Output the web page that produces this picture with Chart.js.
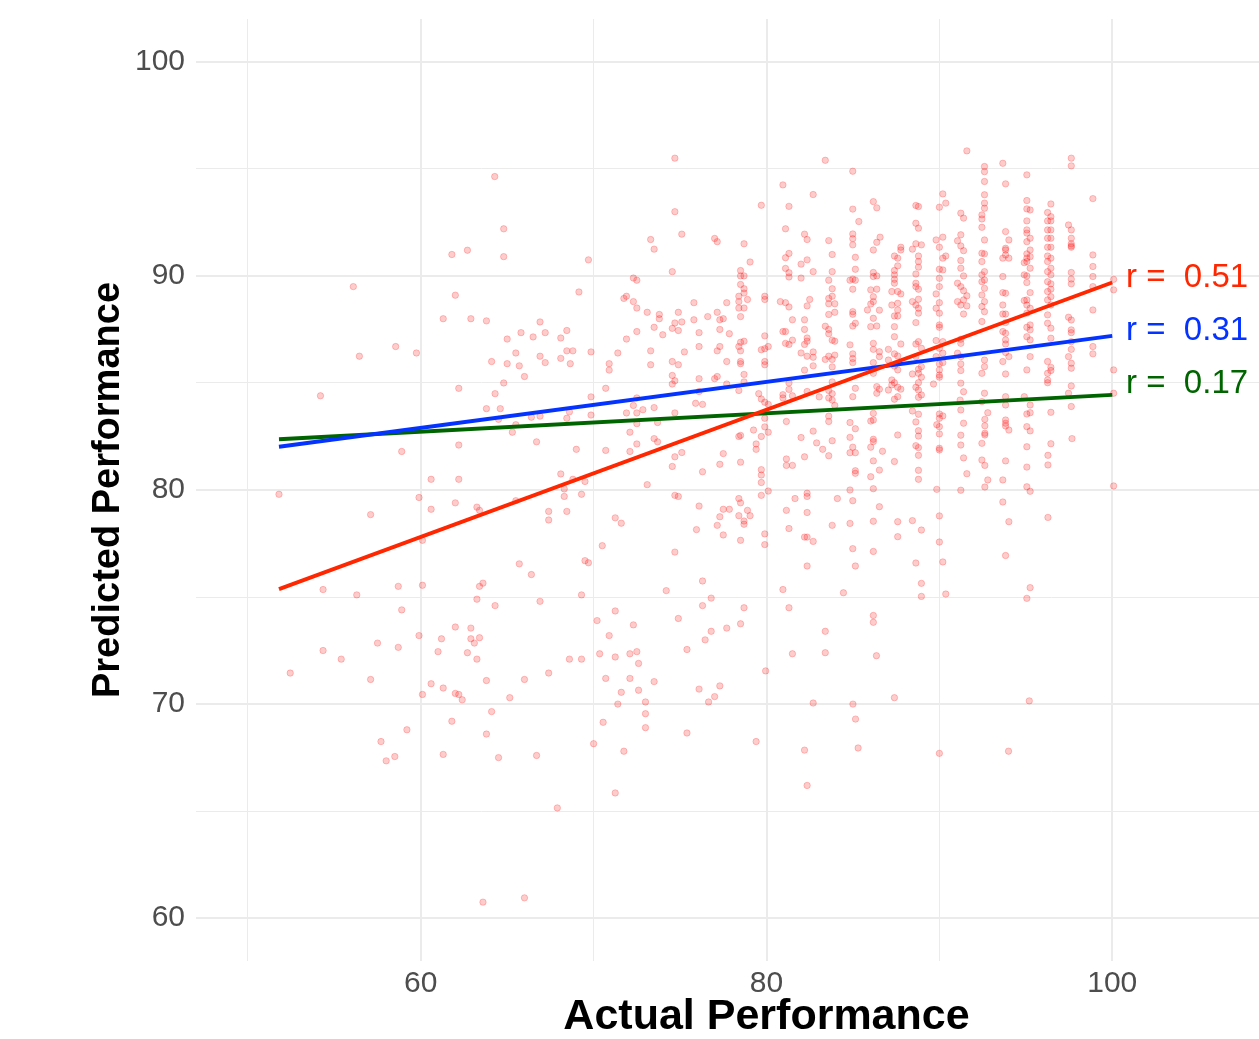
<!DOCTYPE html>
<html><head><meta charset="utf-8">
<script src="https://cdn.jsdelivr.net/npm/chart.js@4/dist/chart.umd.min.js"></script>
<style>
html,body{margin:0;padding:0;background:#fff;overflow:hidden;}
#wrap{position:relative;width:1337px;height:1039px;}
</style></head><body>
<div id="wrap"><canvas id="c" width="1337" height="1039"></canvas></div>
<script>
// [actual, predicted]
const points = [
[64.28,94.64],[64.8,92.2],[61.8,91.0],[62.7,91.2],[64.8,90.9],[56.1,89.5],[62.0,89.1],[61.3,88.0],[62.9,88.0],[63.8,87.9],[66.9,87.85],[65.8,87.35],[66.5,87.15],[67.2,87.35],[65.0,87.05],[58.55,86.7],[59.75,86.4],[56.45,86.25],[65.5,86.4],[66.9,86.25],[67.2,85.95],[64.1,86.0],[65.0,85.9],[65.7,85.8],[66.0,85.3],[64.8,85.0],[62.2,84.75],[64.3,84.5],[54.2,84.4],[63.8,83.8],[64.6,83.8],
[58.9,81.8],[62.2,82.1],[65.3,82.7],[65.5,83.05],[66.7,82.25],[66.4,83.4],[66.9,83.45],[64.5,83.3],[60.6,80.5],[62.2,80.5],[51.8,79.8],[59.9,79.65],[60.6,79.1],[62.0,79.4],[63.25,79.2],[63.4,79.05],[57.1,78.85],[67.4,79.0],[67.4,78.6],[65.5,79.5],[60.1,77.65],[65.7,76.55],[66.4,76.05],[54.35,75.35],[56.3,75.1],[58.7,75.5],[60.1,75.55],[63.4,75.5],[63.6,75.65],[63.25,74.9],[64.3,74.6],[66.9,74.8],[58.9,74.4],[62.0,73.6],[62.9,73.55],[59.9,73.2],[62.9,73.05],[63.4,73.1],[63.1,72.85],[61.2,73.05],[57.5,72.85],[58.7,72.65],[54.35,72.5],[55.4,72.1],[61.0,72.45],[62.7,72.4],[63.25,72.1],
[52.45,71.45],[57.1,71.15],[60.1,70.45],[60.6,70.95],[61.3,70.75],[62.0,70.5],[62.2,70.45],[62.4,70.2],[63.8,71.1],[66.0,71.15],[67.4,71.45],[65.15,70.3],[64.1,69.65],[61.8,69.2],[59.2,68.8],[63.8,68.6],[57.7,68.25],[58.5,67.55],[58.0,67.35],[61.3,67.65],[64.5,67.5],[66.7,67.6],[67.9,65.15],[63.6,60.75],[66.0,60.95],
[74.7,95.5],[83.4,95.4],[80.95,94.25],[82.7,93.8],[79.7,93.3],[81.3,93.25],[74.7,93.0],[81.1,92.2],[82.2,91.95],[82.35,91.7],[83.6,91.65],[75.1,91.95],[73.3,91.7],[73.5,91.25],[77.0,91.75],[77.15,91.6],[78.7,91.5],[69.7,90.75],[81.3,91.05],[81.1,90.85],[82.35,90.75],[82.0,90.55],[83.8,91.0],[79.05,90.65],[74.55,90.2],[78.5,90.25],[78.7,90.0],[78.5,90.0],[81.1,90.35],[81.3,90.15],[81.3,89.95],[82.0,89.9],[82.7,90.2],[83.8,90.2],[83.6,89.8],[72.3,89.9],[72.5,89.8],[78.5,89.6],[78.7,89.4],[78.7,89.2],[78.4,89.05],[78.9,88.9],[78.4,88.8],[78.4,88.5],[78.7,88.5],[78.5,88.1],[79.9,89.05],[79.9,88.9],[80.8,88.8],[81.1,88.75],[81.3,88.55],[82.5,88.9],[82.35,88.6],[83.6,88.95],[83.8,89.4],[83.8,89.05],[83.6,88.7],[83.95,88.7],[83.95,88.3],[83.6,88.2],[71.75,88.95],[71.9,89.05],[72.3,88.8],[72.5,88.5],[69.15,89.25],[73.1,88.3],[73.8,88.2],[73.8,88.0],[74.9,88.3],[74.7,87.8],[75.1,87.85],[74.55,87.55],[74.9,87.45],[75.8,88.75],[75.8,87.95],[76.6,88.1],[77.15,88.3],[77.3,87.95],[77.5,88.0],[77.7,88.75],[77.3,87.5],[77.85,87.3],[73.5,87.6],[72.5,87.4],[74.0,87.25],[71.9,87.05],[76.1,87.35],[68.45,87.45],[68.1,87.1],[68.45,86.5],[68.8,86.5],[68.1,86.15],[68.65,85.9],[69.85,86.45],[71.4,86.4],[70.9,85.9],[70.9,85.6],[73.3,86.5],[73.3,85.85],[75.25,86.45],[76.1,86.7],[77.15,86.5],[77.3,86.7],[78.4,86.7],[78.5,86.9],[78.7,86.95],[78.5,86.5],[78.5,86.0],[78.5,85.9],[77.7,86.0],[79.9,87.2],[79.9,86.6],[79.7,86.55],[80.1,86.7],[79.9,86.0],[79.9,85.85],[80.95,87.4],[81.1,87.4],[81.5,87.0],[81.1,86.85],[81.3,86.8],[81.5,87.95],[82.2,87.95],[82.2,87.5],[82.35,87.1],[82.35,86.95],[82.2,86.8],[82.0,86.4],[82.35,86.25],[82.7,86.45],[82.7,86.2],[82.7,85.8],[82.2,85.6],[83.4,87.65],[83.6,87.5],[83.6,87.3],[83.8,87.0],[83.95,86.95],[83.4,86.1],[83.6,86.25],[83.8,86.1],[83.8,85.75],[83.95,86.3],[74.55,86.0],[74.9,85.85],[74.55,85.35],[74.7,85.1],[74.55,84.95],[76.1,85.2],[77.0,85.2],[77.15,85.3],[77.7,84.95],[78.7,85.4],[78.7,85.05],[78.4,84.65],[70.7,84.75],[69.85,84.35],[72.5,84.3],[76.1,84.6],[75.9,84.05],[76.3,84.0],[79.55,84.5],[79.7,84.25],[79.9,84.1],[80.1,84.0],[80.95,84.45],[80.95,84.3],[81.3,85.0],[81.3,84.7],[81.5,84.4],[82.35,84.6],[83.05,84.35],[83.6,84.65],[83.8,84.5],[83.6,84.3],[83.8,84.2],[83.95,83.95],[83.8,85.05],[72.3,83.95],[73.5,83.85],[72.85,83.75],
[68.6,83.65],[69.85,83.5],[68.45,83.35],[71.9,83.6],[72.5,83.6],[74.7,83.6],[72.5,83.1],[73.7,83.15],[72.1,82.7],[72.5,82.15],[73.5,82.4],[73.7,82.25],[69.0,81.9],[70.7,81.85],[72.1,81.8],[74.7,81.55],[75.1,81.75],[74.55,81.1],[68.1,80.75],[69.5,80.4],[68.8,80.5],[68.3,80.05],[68.3,79.7],[69.3,79.8],[68.45,79.0],[73.1,80.25],[74.7,79.75],[74.9,79.7],[76.3,80.85],[77.5,81.7],[77.3,81.2],[78.5,81.3],[78.4,82.5],[78.5,82.55],[79.25,82.8],[79.4,82.15],[79.4,81.9],[79.7,82.5],[79.9,82.95],[79.9,83.35],[80.1,82.7],[79.7,80.95],[79.7,80.7],[79.7,80.35],[80.1,79.95],[79.7,79.75],[76.1,79.25],[77.5,79.1],[77.85,79.1],[78.4,79.6],[78.5,79.4],[78.9,79.05],[77.3,78.75],[78.4,78.8],[79.05,78.8],[78.7,78.55],[78.7,78.4],[77.15,78.35],[75.95,78.15],[77.5,77.9],[78.5,77.65],[79.9,77.95],[79.9,77.45],[71.25,78.7],[71.6,78.45],[70.5,77.4],[74.7,77.1],[69.5,76.7],[69.7,76.6],[81.15,81.45],[81.15,81.15],[81.5,81.15],[82.2,81.55],[83.6,81.6],[83.25,81.9],[82.9,82.2],[83.8,82.3],[82.0,82.45],[82.7,82.75],[81.15,83.2],[83.6,83.45],[83.6,83.2],[81.65,79.6],[82.35,79.85],[82.35,79.7],[81.15,79.05],[82.35,78.95],[84.1,79.6],[81.3,78.2],[83.8,78.35],[82.2,77.8],[82.35,77.8],[82.7,77.6],[82.35,76.45],[74.2,75.3],[76.3,75.75],[76.8,74.95],[76.3,74.6],[78.7,74.5],[80.95,75.35],[81.3,74.5],[84.45,75.2],[69.3,75.1],[71.25,74.35],[70.2,73.9],[72.3,73.7],[74.9,74.0],[70.9,73.2],[76.8,73.4],[77.7,73.55],[78.5,73.75],[76.45,73.0],[75.4,72.55],[83.4,73.4],[70.35,72.35],[72.1,72.35],[72.5,72.45],[71.25,72.2],[72.6,71.9],[68.6,72.1],[69.3,72.1],[81.5,72.35],[83.4,72.4],
[70.7,71.2],[72.1,71.2],[73.5,71.05],[71.6,70.55],[72.6,70.65],[71.4,70.0],[73.0,70.1],[73.0,69.55],[73.0,68.9],[70.55,69.15],[70.0,68.15],[71.75,67.8],[75.4,68.65],[76.1,70.7],[77.3,70.85],[77.0,70.35],[76.65,70.1],[79.95,71.55],[79.4,68.25],[82.7,70.05],[82.2,67.85],[82.35,66.2],[71.25,65.85],
[85.0,70.0],[87.4,70.3],[85.15,69.3],[85.3,67.95],[90.0,67.7],[94.0,67.8],[95.2,70.15],
[84.83,83.15],[85.14,82.86],[84.83,82.46],[84.99,82.0],[85.14,81.74],[84.83,81.74],[85.14,80.9],[85.14,80.78],[84.83,80.0],[84.99,79.5],[84.83,78.44],[84.99,77.26],[85.14,76.45],
[86.18,83.58],[86.18,83.27],[86.03,83.22],[86.18,82.37],[86.18,82.26],[86.03,82.0],[86.71,81.81],[86.18,81.36],[86.53,80.93],[86.03,80.62],[86.18,80.06],[86.53,79.22],[86.18,78.54],[86.18,77.13],[86.18,74.14],[86.18,73.82],[86.36,72.26],
[87.59,82.57],[87.4,81.33],[87.59,78.52],[87.59,77.82],
[88.44,83.69],[88.79,83.54],[88.64,83.18],[88.79,82.77],[88.79,82.52],[88.64,82.07],[88.79,81.98],[88.79,81.62],[88.79,80.92],[88.79,80.5],[88.44,78.57],[88.96,78.13],[88.64,76.59],[88.96,75.64],[88.96,75.03],
[90.0,83.55],[90.2,83.46],[90.0,83.35],[89.85,83.05],[90.0,82.96],[90.0,82.62],[90.0,81.95],[90.0,81.87],[89.85,80.03],[90.0,78.79],[90.0,77.57],[90.2,76.64],[90.37,75.14],
[91.24,83.74],[91.4,83.12],[91.24,82.56],[91.24,82.1],[91.4,81.5],[91.59,80.76],[91.24,79.99],
[92.8,83.61],[92.63,83.3],[92.63,83.0],[92.63,82.65],[92.63,82.57],[92.46,82.18],[92.46,81.4],[92.63,81.15],[92.8,80.47],[92.63,80.14],
[93.83,83.27],[93.83,83.12],[93.83,82.99],[94.02,82.8],[93.83,81.36],[93.67,80.47],[93.67,79.44],[94.02,78.52],[93.83,76.94],
[95.06,83.55],[95.25,83.61],[95.06,82.96],[95.25,82.76],[95.06,82.02],[95.06,81.07],[95.06,80.15],[95.25,79.94],[95.25,75.44],[95.06,74.94],
[96.45,83.63],[96.45,82.16],[96.28,81.62],[96.28,81.17],[96.28,78.72],[97.67,82.4],[100.08,80.19],
[84.99,94.89],[84.99,93.12],[85.34,92.54],[84.99,91.96],[84.99,91.74],[84.99,91.45],[85.14,90.87],[85.14,90.31],[84.99,89.85],[84.83,89.8],[85.14,89.8],[84.99,89.38],[84.99,88.33],[84.99,88.21],[85.14,87.79],[84.99,87.66],[84.83,86.78],[84.99,86.36],[84.99,86.14],[84.99,85.95],[85.14,84.75],[84.99,84.36],
[86.18,93.47],[86.38,93.18],[86.38,91.57],[86.57,91.81],[86.18,91.21],[86.18,90.16],[86.38,90.0],[86.18,89.97],[86.03,89.35],[86.38,89.38],[86.18,89.03],[86.18,88.8],[86.03,88.69],[85.84,88.41],[86.53,88.4],[86.18,88.02],[86.03,87.63],[86.38,87.66],[86.18,86.85],[86.18,86.57],[86.53,86.46],[86.53,86.23],[86.18,85.95],[86.18,85.45],[86.38,84.83],[86.38,84.52],[86.53,84.71],
[87.77,91.34],[87.77,91.21],[87.4,90.93],[87.59,90.83],[87.59,90.47],[87.4,90.25],[87.4,90.05],[87.4,89.84],[87.4,89.66],[87.25,89.27],[87.59,89.27],[87.77,89.16],[87.25,88.64],[87.59,88.72],[87.59,88.41],[87.4,88.13],[87.59,88.13],[87.4,87.63],[87.4,87.16],[87.77,86.82],[87.05,86.57],[87.4,86.36],[87.59,86.26],[87.05,86.07],[87.4,85.79],[87.59,85.61],[87.25,85.14],[87.4,85.01],[87.25,84.91],[87.59,84.8],[87.77,84.71],[87.05,84.67],[87.59,84.36],[87.4,84.24],
[88.64,93.29],[88.79,93.24],[88.64,92.46],[88.79,92.23],[88.64,91.5],[88.96,91.45],[88.44,91.25],[88.79,90.93],[88.79,90.67],[88.79,90.41],[88.64,90.09],[88.64,89.66],[88.64,89.5],[88.79,89.38],[88.44,88.8],[88.79,88.91],[88.64,88.64],[88.79,88.49],[88.79,88.26],[88.64,87.82],[88.79,86.93],[88.64,86.82],[88.96,86.62],[88.64,86.23],[88.96,85.76],[88.79,85.64],[88.79,85.45],[88.44,85.42],[88.96,85.27],[88.79,85.01],[88.64,84.8],[88.79,84.67],[88.96,84.44],[88.79,84.33],[89.66,84.95],
[90.2,93.83],[90.37,93.4],[90.0,93.21],[90.2,91.81],[89.81,91.68],[90.0,91.34],[90.2,90.83],[90.37,90.93],[90.0,90.31],[90.2,90.28],[90.0,89.89],[90.0,89.5],[89.81,89.16],[90.0,88.75],[89.81,88.49],[90.0,88.26],[90.0,87.71],[90.0,87.6],[89.81,86.98],[90.2,86.93],[90.0,86.62],[90.2,86.39],[89.81,86.23],[90.0,85.89],[90.2,85.95],[90.0,85.61],[90.0,85.37],[90.0,85.27],
[91.59,95.84],[91.24,92.93],[91.4,92.7],[91.24,91.92],[91.05,91.64],[91.24,91.4],[91.4,91.18],[91.24,90.72],[91.24,90.36],[91.4,90.0],[91.05,89.66],[91.24,89.5],[91.4,89.31],[91.59,89.07],[91.05,88.8],[91.4,88.88],[91.24,88.64],[91.59,88.6],[91.4,88.22],[91.24,87.04],[91.24,86.85],[91.05,86.39],[91.24,86.23],[91.24,85.89],[91.24,85.58],[91.24,84.99],[91.4,84.59],[91.2,84.2],
[92.61,95.11],[92.61,94.87],[92.61,94.41],[92.61,93.79],[92.61,93.4],[92.61,93.16],[92.46,92.85],[92.46,92.66],[92.46,92.27],[92.61,91.68],[92.46,91.06],[92.61,91.03],[92.46,90.67],[92.61,90.2],[92.46,90.05],[92.61,89.81],[92.46,89.73],[92.61,89.42],[92.46,89.11],[92.61,88.8],[92.46,88.57],[92.61,88.33],[92.46,87.87],[92.61,86.07],[92.61,85.76],[92.46,85.45],[92.61,84.52],[92.46,84.13],
[93.67,95.26],[93.83,94.3],[93.83,92.07],[94.02,91.68],[93.83,91.29],[93.83,91.21],[93.67,90.83],[94.02,90.83],[93.83,90.98],[93.67,89.97],[93.67,89.22],[93.83,89.19],[93.67,88.64],[93.67,88.22],[93.83,88.22],[93.83,87.82],[93.67,87.4],[93.83,87.32],[93.83,87.01],[93.83,86.82],[93.83,86.42],[94.02,86.23],[93.67,86.0],[93.83,85.42],[93.83,84.36],[93.83,83.97],
[95.06,94.72],[95.06,93.52],[95.06,93.13],[95.25,93.08],[95.06,92.57],[95.06,92.15],[95.06,92.0],[95.25,91.76],[95.06,91.6],[95.25,91.21],[95.06,91.03],[95.06,90.83],[95.25,90.9],[94.91,90.62],[95.06,90.67],[95.25,90.36],[94.91,90.05],[95.06,90.0],[95.06,89.69],[95.25,89.22],[95.06,88.88],[94.91,88.85],[95.06,88.64],[95.25,88.49],[95.06,88.26],[95.25,87.71],[95.06,87.6],[95.25,87.48],[95.06,87.16],[95.25,87.01],[95.25,86.23],[95.06,85.61],[94.91,84.36],[95.25,83.97],
[96.45,93.36],[96.26,92.96],[96.45,92.77],[96.26,92.57],[96.45,92.57],[96.26,92.15],[96.45,92.15],[96.45,91.76],[96.26,91.76],[96.26,91.34],[96.45,91.34],[96.26,90.93],[96.45,90.83],[96.26,90.67],[96.45,90.36],[96.26,90.2],[96.45,90.05],[96.26,89.73],[96.45,89.63],[96.45,89.38],[96.26,89.27],[96.45,89.03],[96.26,88.88],[96.45,88.64],[96.26,88.18],[96.26,87.79],[96.45,87.56],[96.45,87.09],[96.26,86.0],[96.45,85.73],[96.45,85.58],[96.26,85.45],[96.26,85.14],[96.26,85.01],
[97.63,95.5],[97.63,95.14],[97.47,92.38],[97.63,92.15],[97.63,91.76],[97.63,91.5],[97.63,91.4],[97.63,91.34],[97.63,90.16],[97.63,89.85],[97.63,89.63],[97.47,88.07],[97.63,87.94],[97.63,87.48],[97.63,87.35],[97.63,86.93],[97.63,86.57],[97.47,86.23],[97.63,85.92],[97.63,85.69],[97.63,84.86],[97.47,84.52],[97.63,83.9],
[98.88,93.61],[98.88,90.98],[98.88,90.44],[98.88,89.97],[98.88,89.5],[98.88,88.41],[98.88,86.7],[98.88,86.36],
[100.08,89.84],[100.08,89.35],[100.08,85.61],[100.08,84.52]
];

// fitted lines (x endpoints and y endpoints)
const lineX  = [51.8, 100];
const redY   = [75.37, 89.69];
const blueY  = [82.02, 87.2];
const greenY = [82.37, 84.44];

// correlation labels
const corrText = ['r =  0.51', 'r =  0.31', 'r =  0.17'];
const corrX = 100.8;
const corrY = [89.93, 87.44, 84.95];

// axis ticks
const xTicks = [50, 60, 70, 80, 90, 100, 110];
const xMajor = [60, 80, 100];
const yTicks = [60, 65, 70, 75, 80, 85, 90, 95, 100];
const yMajor = [60, 70, 80, 90, 100];

const RED = '#FF2600', BLUE = '#0433FF', GREEN = '#006400';
const FAMILY = '"Liberation Sans", Arial, Helvetica, sans-serif';

const labelPlugin = {
  id: 'corrLabels',
  afterDatasetsDraw(chart) {
    const {ctx, scales} = chart;
    const cols = [RED, BLUE, GREEN];
    ctx.save();
    ctx.font = '33px ' + FAMILY;
    ctx.textAlign = 'left';
    ctx.textBaseline = 'middle';
    corrText.forEach((t, i) => {
      ctx.fillStyle = cols[i];
      ctx.fillText(t, scales.x.getPixelForValue(corrX), scales.y.getPixelForValue(corrY[i]));
    });
    ctx.restore();
  }
};

function lineData(ys) { return lineX.map((x, i) => ({x: x, y: ys[i]})); }
function noPad(s) { s.paddingLeft = 0; s.paddingRight = 0; s.paddingTop = 0; s.paddingBottom = 0; }

new Chart(document.getElementById('c'), {
  type: 'scatter',
  data: {
    datasets: [
      {data: lineData(redY), showLine: true, borderColor: RED, borderWidth: 3.8, pointRadius: 0, order: 1},
      {data: lineData(blueY), showLine: true, borderColor: BLUE, borderWidth: 3.8, pointRadius: 0, order: 2},
      {data: lineData(greenY), showLine: true, borderColor: GREEN, borderWidth: 3.8, pointRadius: 0, order: 3},
      {data: points.map(p => ({x: p[0], y: p[1]})), backgroundColor: 'rgba(255,0,0,0.2)', borderColor: 'rgba(255,0,0,0.22)', borderWidth: 1, pointRadius: 3.2, order: 10}
    ]
  },
  options: {
    responsive: false,
    animation: false,
    devicePixelRatio: 1,
    layout: {autoPadding: false, padding: {top: 19, right: 0, bottom: 0, left: 0}},
    plugins: {legend: {display: false}, tooltip: {enabled: false}},
    scales: {
      x: {
        type: 'linear', min: 47, max: 113,
        afterBuildTicks: s => { s.ticks = xTicks.map(v => ({value: v})); },
        afterFit: s => { s.height = 78; noPad(s); },
        grid: {color: '#EBEBEB', lineWidth: c => xMajor.includes(c.tick && c.tick.value) ? 2 : 1, drawTicks: false},
        border: {display: false},
        ticks: {autoSkip: false, maxRotation: 0, padding: 5, color: '#4D4D4D', font: {family: FAMILY, size: 30},
          callback: v => xMajor.includes(v) ? String(v) : ''},
        title: {display: true, text: 'Actual Performance', color: '#000', font: {family: FAMILY, size: 43, weight: 'bold', lineHeight: 0.9}, padding: {top: 0, bottom: 3}}
      },
      y: {
        type: 'linear', min: 58, max: 102,
        afterBuildTicks: s => { s.ticks = yTicks.map(v => ({value: v})); },
        afterFit: s => { s.width = 196; noPad(s); },
        grid: {color: '#EBEBEB', lineWidth: c => yMajor.includes(c.tick && c.tick.value) ? 2 : 1, drawTicks: false},
        border: {display: false},
        ticks: {autoSkip: false, padding: 11, color: '#4D4D4D', font: {family: FAMILY, size: 30},
          callback: v => yMajor.includes(v) ? String(v) : ''},
        title: {display: true, text: 'Predicted Performance', color: '#000', font: {family: FAMILY, size: 38, weight: 'bold', lineHeight: 1}, padding: {top: 90, bottom: 0}}
      }
    }
  },
  plugins: [labelPlugin]
});
</script>
</body></html>
